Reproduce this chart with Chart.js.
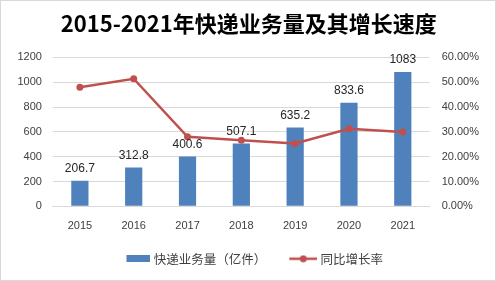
<!DOCTYPE html>
<html>
<head>
<meta charset="utf-8">
<script src="https://cdn.jsdelivr.net/npm/chart.js@4"></script>
<style>
  html, body { margin: 0; padding: 0; background: #fff; }
  .box { position: absolute; left: 0; top: 0; width: 494px; height: 279px; border: 1px solid #d9d9d9; }
  canvas { position: absolute; left: 0; top: 0; }
</style>
</head>
<body>
<div class="box"></div>
<canvas id="c" width="496" height="281"></canvas>
<script>
const years = ['2015', '2016', '2017', '2018', '2019', '2020', '2021'];
const volume = [206.7, 312.8, 400.6, 507.1, 635.2, 833.6, 1083];
const growth = [48.0, 51.4, 28.0, 26.6, 25.3, 31.2, 29.9];

const BLUE = '#4f81bd';
const RED = '#c0504d';

// legend markers, drawn flush right so the text sits close to them
function barMark() {
  const c = document.createElement('canvas');
  c.width = 39; c.height = 7;
  const g = c.getContext('2d');
  g.fillStyle = BLUE;
  g.fillRect(15, 0, 24, 7);
  return c;
}
function lineMark() {
  const c = document.createElement('canvas');
  c.width = 39; c.height = 8;
  const g = c.getContext('2d');
  g.strokeStyle = RED;
  g.lineWidth = 2.5;
  g.beginPath(); g.moveTo(11, 4); g.lineTo(39, 4); g.stroke();
  g.fillStyle = RED;
  g.beginPath(); g.arc(25, 4, 3.5, 0, Math.PI * 2); g.fill();
  return c;
}

// draw the numbers above the bars
const barLabels = {
  id: 'barLabels',
  afterDatasetsDraw(chart) {
    const ctx = chart.ctx;
    const meta = chart.getDatasetMeta(0);
    ctx.save();
    ctx.font = '12px "Liberation Sans", "Noto Sans", sans-serif';
    ctx.fillStyle = '#262626';
    ctx.textAlign = 'center';
    ctx.textBaseline = 'bottom';
    meta.data.forEach((bar, i) => {
      ctx.fillText(String(volume[i]), bar.x, bar.y - 6);
    });
    ctx.restore();
  }
};

const tickFont = { family: '"Liberation Sans", sans-serif', size: 11 };

new Chart(document.getElementById('c'), {
  type: 'bar',
  data: {
    labels: years,
    datasets: [
      {
        type: 'bar',
        label: '快递业务量（亿件）',
        data: volume,
        backgroundColor: BLUE,
        barPercentage: 0.32,
        categoryPercentage: 1,
        yAxisID: 'y',
        order: 2
      },
      {
        type: 'line',
        label: '同比增长率',
        data: growth,
        borderColor: RED,
        backgroundColor: RED,
        borderWidth: 2.5,
        pointRadius: 3.5,
        pointBorderWidth: 0,
        tension: 0,
        yAxisID: 'y1',
        order: 1
      }
    ]
  },
  options: {
    responsive: false,
    animation: false,
    layout: { padding: { left: 6.5, right: 5, top: 2, bottom: 6 } },
    plugins: {
      title: {
        display: true,
        text: '2015-2021年快递业务量及其增长速度',
        font: { family: '"Noto Sans CJK SC", sans-serif', size: 22, weight: 'bold' },
        color: '#000',
        padding: { top: 8, bottom: 21 }
      },
      legend: {
        position: 'bottom',
        labels: {
          font: { family: '"Noto Sans CJK SC", sans-serif', size: 12.5 },
          color: '#404040',
          usePointStyle: true,
          pointStyleWidth: 33,
          boxHeight: 8,
          padding: 15,
          generateLabels(chart) {
            return [
              { text: '快递业务量（亿件）', pointStyle: barMark(), fontColor: '#404040', datasetIndex: 0 },
              { text: '同比增长率', pointStyle: lineMark(), fontColor: '#404040', datasetIndex: 1 }
            ];
          }
        }
      },
      tooltip: { enabled: false }
    },
    scales: {
      x: {
        grid: { display: false },
        border: { color: '#d9d9d9' },
        ticks: { color: '#404040', font: tickFont, padding: 5 }
      },
      y: {
        position: 'left',
        min: 0,
        max: 1200,
        ticks: {
          stepSize: 200,
          color: '#404040',
          font: tickFont,
          padding: 11,
          callback: v => String(v)
        },
        grid: { color: '#d9d9d9', drawTicks: false },
        border: { display: false }
      },
      y1: {
        position: 'right',
        min: 0,
        max: 60,
        ticks: {
          stepSize: 10,
          color: '#404040',
          font: tickFont,
          padding: 12,
          callback: v => v.toFixed(2) + '%'
        },
        grid: { display: false, drawTicks: false },
        border: { display: false }
      }
    }
  },
  plugins: [barLabels]
});
</script>
</body>
</html>
